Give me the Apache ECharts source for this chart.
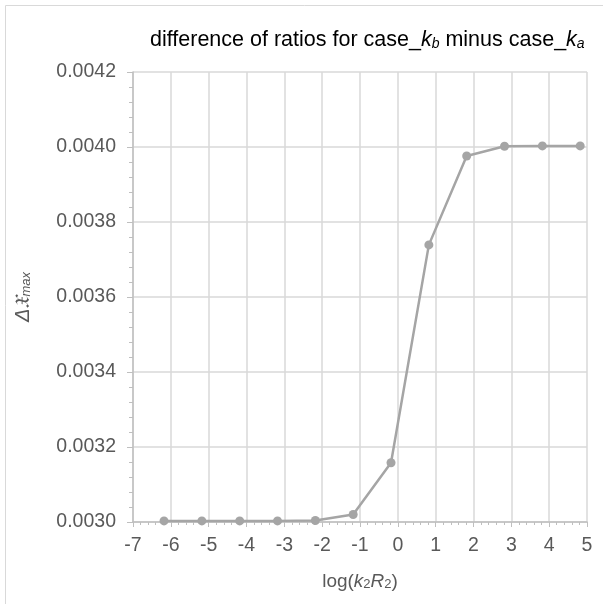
<!DOCTYPE html>
<html>
<head>
<meta charset="utf-8">
<script src="https://cdn.jsdelivr.net/npm/echarts@6/dist/echarts.min.js"></script>
<style>
  html, body { margin: 0; padding: 0; background: #fff; }
  #chart { width: 603px; height: 604px; }
</style>
</head>
<body>
<div id="chart"></div>
<script>
(function () {
  // log(k2R2) positions and the ratio differences
  var logK = [-6.18, -5.18, -4.18, -3.18, -2.18, -1.18, -0.18, 0.82, 1.82, 2.82, 3.82, 4.82];
  var deltaX = [0.003003, 0.003003, 0.003003, 0.003003, 0.003004, 0.003020, 0.003158, 0.003739, 0.003976, 0.004002, 0.004003, 0.004003];

  var myChart = echarts.init(document.getElementById('chart'));
  var font = '"Liberation Sans", Arial, sans-serif';
  var sub = { fontSize: 13, verticalAlign: 'bottom', lineHeight: 16, padding: [9, 0, 0, 0], color: '#595959', fontFamily: font };
  var subIt = { fontSize: 13, verticalAlign: 'bottom', lineHeight: 16, padding: [9, 0, 0, 0], color: '#595959', fontFamily: font, fontStyle: 'italic' };
  var ital = { fontStyle: 'italic', fontSize: 19, color: '#595959', fontFamily: font };

  var option = {
    graphic: [{
      type: 'rect',
      shape: { x: 5.5, y: 5.5, width: 620, height: 620 },
      style: { fill: 'none', stroke: '#d9d9d9', lineWidth: 1 },
      silent: true
    }],
    title: {
      text: 'difference of ratios for case_{i|k}{s|b} minus case_{i|k}{s|a}',
      left: 145,
      top: 24,
      textStyle: {
        fontFamily: font,
        fontSize: 21.5,
        fontWeight: 'normal',
        color: '#000',
        rich: {
          i: { fontStyle: 'italic', fontSize: 21.5, color: '#000', fontFamily: font },
          s: { fontStyle: 'italic', fontSize: 14, color: '#000', verticalAlign: 'bottom', lineHeight: 16, padding: [9, 0, 0, 0], fontFamily: font }
        }
      }
    },
    grid: {
      left: 133,
      right: 16,
      top: 72,
      bottom: 82,
      containLabel: false
    },
    xAxis: {
      type: 'value',
      min: -7,
      max: 5,
      interval: 1,
      name: 'log({i|k}{s|2}{i|R}{s|2})',
      nameLocation: 'middle',
      nameGap: 50,
      nameTextStyle: {
        fontFamily: font,
        fontSize: 19,
        color: '#595959',
        rich: { i: ital, s: sub }
      },
      axisLine: { onZero: false, lineStyle: { color: '#bfbfbf', width: 1.5 } },
      axisTick: { show: true, length: 5, lineStyle: { color: '#bfbfbf' } },
      minorTick: { show: true, splitNumber: 5, length: 3, lineStyle: { color: '#bfbfbf' } },
      axisLabel: { fontFamily: font, fontSize: 19.5, color: '#595959', margin: 14 },
      splitLine: { show: true, lineStyle: { color: '#d9d9d9', width: 1.5 } }
    },
    yAxis: {
      type: 'value',
      min: 0.003,
      max: 0.0042,
      interval: 0.0002,
      name: 'Δ𝔛{s|max}',
      nameLocation: 'middle',
      nameGap: 100,
      nameTextStyle: {
        fontFamily: font,
        fontSize: 20,
        fontStyle: 'italic',
        color: '#595959',
        rich: { s: subIt }
      },
      axisLine: { show: true, onZero: false, lineStyle: { color: '#bfbfbf', width: 1.5 } },
      axisTick: { show: true, length: 6, lineStyle: { color: '#bfbfbf' } },
      minorTick: { show: true, splitNumber: 5, length: 4, lineStyle: { color: '#bfbfbf' } },
      axisLabel: {
        fontFamily: font,
        fontSize: 19.5,
        color: '#595959',
        margin: 17,
        formatter: function (v) { return v.toFixed(4); }
      },
      splitLine: { show: true, lineStyle: { color: '#d9d9d9', width: 1.5 } }
    },
    series: [{
      type: 'line',
      data: logK.map(function (x, i) { return [x, deltaX[i]]; }),
      symbol: 'circle',
      symbolSize: 9,
      itemStyle: { color: '#a5a5a5' },
      lineStyle: { color: '#a5a5a5', width: 2.5 },
      animation: false
    }]
  };
  myChart.setOption(option);
})();
</script>
</body>
</html>
